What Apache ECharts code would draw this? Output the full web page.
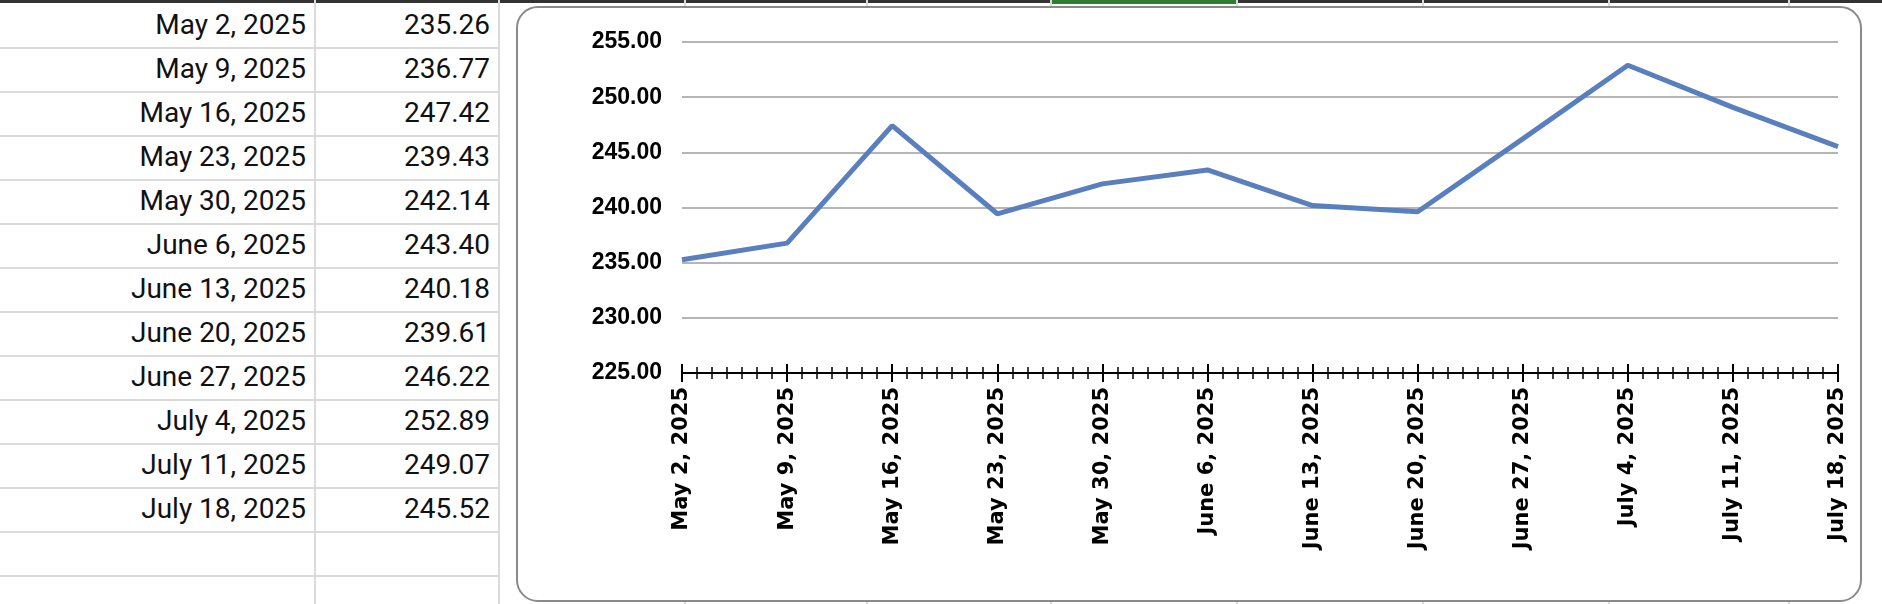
<!DOCTYPE html>
<html>
<head>
<meta charset="utf-8">
<script src="https://cdn.jsdelivr.net/npm/echarts@6/dist/echarts.min.js"></script>
<style>
  body { margin: 0; width: 1882px; height: 604px; background: #fff; overflow: hidden; position: relative; font-family: "Liberation Sans", Arial, sans-serif; }
  .vline { position: absolute; top: 0; bottom: 0; width: 2px; background: #dadada; }
  .hline { position: absolute; left: 0; width: 498px; height: 2px; background: #dadada; }
  .cell { position: absolute; height: 44px; line-height: 44px; text-align: right; font-size: 28px; color: #111; font-family: Roboto, "Liberation Sans", sans-serif; }
  #topbar { position: absolute; left: 0; top: 0; width: 1882px; height: 3px; background: #333; }
  #green { position: absolute; left: 1050px; top: 0; width: 186px; height: 4px; background: #2e7d32; }
  #chart { position: absolute; left: 516px; top: 6px; width: 1342px; height: 592px; background: #fff; border: 2px solid #8a8a8a; border-radius: 22px; }
</style>
</head>
<body>
<div id="topbar"></div><div id="green"></div>
<div id="sheet"></div>
<div id="chart"></div>
<script>
const dates = ["May 2, 2025","May 9, 2025","May 16, 2025","May 23, 2025","May 30, 2025","June 6, 2025",
  "June 13, 2025","June 20, 2025","June 27, 2025","July 4, 2025","July 11, 2025","July 18, 2025"];
const prices = [235.26,236.77,247.42,239.43,242.14,243.40,240.18,239.61,246.22,252.89,249.07,245.52];

// spreadsheet backdrop
const sheet = document.getElementById('sheet');
[314, 498, 684, 866, 1050, 1236, 1422, 1608, 1788].forEach(x => {
  const d = document.createElement('div'); d.className = 'vline'; d.style.left = x + 'px'; sheet.appendChild(d);
});
for (let i = 0; i < 13; i++) {
  const d = document.createElement('div'); d.className = 'hline'; d.style.top = (47 + 44 * i) + 'px'; sheet.appendChild(d);
}
dates.forEach((t, i) => {
  const a = document.createElement('div'); a.className = 'cell';
  a.style.left = '0px'; a.style.width = '306px'; a.style.top = (3 + 44 * i) + 'px'; a.textContent = t; sheet.appendChild(a);
  const b = document.createElement('div'); b.className = 'cell';
  b.style.left = '320px'; b.style.width = '170px'; b.style.top = (3 + 44 * i) + 'px'; b.textContent = prices[i].toFixed(2); sheet.appendChild(b);
});

// days since first date, weekly points
const days = dates.map((d, i) => i * 7);
const chart = echarts.init(document.getElementById('chart'));
const axisBase = {
  type: 'value', min: 0, max: 77, interval: 7,
  axisLine: { show: true, lineStyle: { color: '#000', width: 2 } },
  splitLine: { show: false }
};
chart.setOption({
  animation: false,
  grid: { left: 164, right: 22, top: 34, bottom: 227 },
  xAxis: [
    Object.assign({}, axisBase, {
      axisTick: { length: 9, lineStyle: { color: '#000', width: 2 } },
      minorTick: { show: true, splitNumber: 7, length: 6, lineStyle: { color: '#000', width: 1.5 } },
      axisLabel: {
        rotate: 90, margin: 14, fontFamily: 'DejaVu Sans', fontWeight: 'bold', fontSize: 21, color: '#000',
        formatter: v => dates[Math.round(v / 7)]
      }
    }),
    Object.assign({}, axisBase, {
      position: 'bottom',
      axisTick: { inside: true, length: 9, lineStyle: { color: '#000', width: 2 } },
      minorTick: { show: true, splitNumber: 7, length: 6, lineStyle: { color: '#000', width: 1.5 } },
      axisLabel: { show: false }
    })
  ],
  yAxis: {
    type: 'value', min: 225, max: 255, interval: 5,
    axisLine: { show: false }, axisTick: { show: false },
    splitLine: { lineStyle: { color: '#b5b5b5', width: 2 } },
    axisLabel: { formatter: v => v.toFixed(2), fontWeight: 'bold', fontSize: 23, color: '#000', margin: 20, fontFamily: 'Liberation Sans' }
  },
  series: [{
    type: 'line', xAxisIndex: 0, data: days.map((d, i) => [d, prices[i]]),
    showSymbol: false, lineStyle: { color: '#5a7fbf', width: 5 }
  }]
});
</script>
</body>
</html>
